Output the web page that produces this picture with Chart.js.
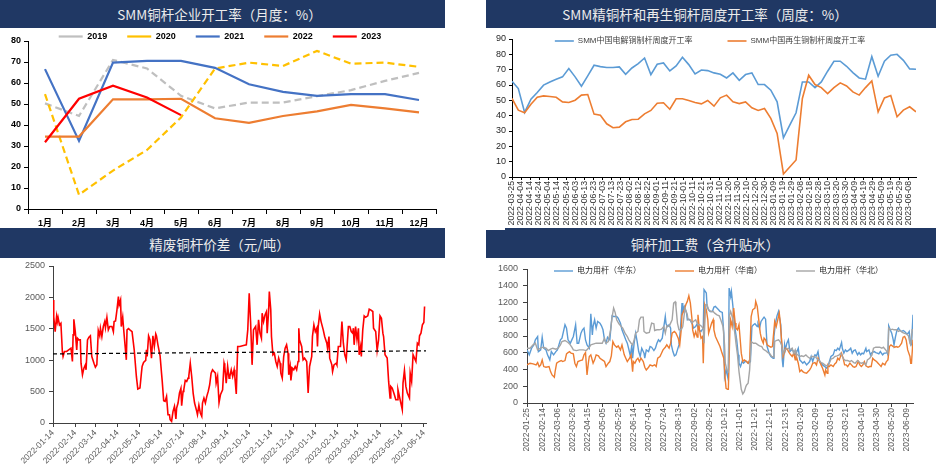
<!DOCTYPE html>
<html>
<head>
<meta charset="utf-8">
<script src="https://cdn.jsdelivr.net/npm/chart.js@4.4.0/dist/chart.umd.min.js"></script>
<style>
body { margin: 0; width: 936px; height: 471px; position: relative; background: #fff; overflow: hidden; font-family: 'Noto Sans CJK SC', sans-serif; }
.bar { position: absolute; height: 28px; background: #203864; color: #ececec; font-size: 13.5px; line-height: 28px; text-align: center; box-sizing: border-box; }
.rule { position: absolute; height: 2px; background: #203864; }
canvas { position: absolute; }
</style>
</head>
<body>
<div class="bar" style="left:0;top:0;width:445px;padding-right:6px">SMM铜杆企业开工率（月度：%）</div>
<div class="bar" style="left:486px;top:0;width:450px;padding-right:12px">SMM精铜杆和再生铜杆周度开工率（周度：%）</div>
<div class="bar" style="left:0;top:230px;width:445px;padding-right:6px">精废铜杆价差（元/吨）</div>
<div class="bar" style="left:486px;top:230px;width:450px;padding-right:12px">铜杆加工费（含升贴水）</div>
<div class="rule" style="left:0;top:228px;width:445px"></div>
<div class="rule" style="left:505px;top:228px;width:431px"></div>

<canvas id="c1" width="446" height="216" style="left:0;top:12px"></canvas>
<canvas id="c2" width="466" height="226" style="left:470px;top:2px"></canvas>
<canvas id="c3" width="446" height="213" style="left:0;top:258px"></canvas>
<canvas id="c4" width="466" height="238" style="left:470px;top:233px"></canvas>

<script>
// ---- chart 1: monthly operating rate
const months = ['1月','2月','3月','4月','5月','6月','7月','8月','9月','10月','11月','12月']
const y2019 = [50.3, 44.3, 71, 66.9, 53.9, 47.9, 50.7, 50.7, 53.7, 56.6, 61, 64.8]
const y2020 = [54.7, 6.8, 18.3, 28.1, 43.6, 66.9, 69.7, 68.1, 75.3, 69.2, 69.7, 67.7]
const y2021 = [66.6, 32.4, 69.7, 70.5, 70.5, 67.2, 59.4, 55.8, 53.9, 54.7, 54.7, 51.9]
const y2022 = [34.5, 34.5, 52.2, 52.2, 52.5, 43.2, 41, 44.3, 46.5, 49.6, 47.9, 46]
const y2023 = [31.8, 52.5, 58.7, 53.1, 44.7]

// ---- chart 2: weekly operating rate, one value per week from 2022-03-25
const weekStart = '2022-03-25'
const weeklyRefined = [62.5, 57.7, 42.1, 50.7, 55.1, 59.9, 62, 63.8, 65.3, 70.7, 65.3, 59.2, 65.9, 72.9, 72, 71.4, 71.4, 71.8, 67, 71.1, 74, 77.6, 66.8, 73.5, 74.4, 69.2, 72.4, 78.1, 73.3, 67.2, 69.8, 69.4, 67.9, 67, 64.6, 67.9, 63.1, 66.8, 67.9, 60.3, 60.3, 56.6, 49, 25.6, 33.8, 41.9, 62, 62, 58.3, 62, 69, 75.5, 75.5, 72.2, 68.1, 64.6, 63.8, 78.5, 65.7, 75.5, 79.4, 80, 76.1, 70.5, 70.3]
const weeklyRecycled = [51.2, 43.6, 41.9, 47.5, 52, 52.9, 52.5, 52, 49, 48.6, 50.1, 53.4, 53.8, 41, 40.3, 34.7, 32.1, 32.5, 36, 37.5, 37.7, 41.2, 43.4, 48.1, 48.4, 44.2, 51, 51, 49.9, 48.6, 47.7, 49.9, 46.2, 51.6, 53.4, 49, 47.9, 49, 45.1, 43.4, 44.7, 38.2, 28.4, 2, 6.5, 11.1, 51.2, 66.4, 60.3, 58.3, 54.4, 58.3, 61.4, 59.4, 55.5, 53.4, 58.3, 62.7, 42.5, 51.6, 53.1, 39.3, 43.6, 45.8, 42.5]
const weekTicks = ['2022-03-25','2022-04-04','2022-04-14','2022-04-24','2022-05-04','2022-05-14','2022-05-24','2022-06-03','2022-06-13','2022-06-23','2022-07-03','2022-07-13','2022-07-23','2022-08-02','2022-08-12','2022-08-22','2022-09-01','2022-09-11','2022-09-21','2022-10-01','2022-10-11','2022-10-21','2022-10-31','2022-11-10','2022-11-20','2022-11-30','2022-12-10','2022-12-20','2022-12-30','2023-01-09','2023-01-19','2023-01-29','2023-02-08','2023-02-18','2023-02-28','2023-03-10','2023-03-20','2023-03-30','2023-04-09','2023-04-19','2023-04-29','2023-05-09','2023-05-19','2023-05-29','2023-06-08']

// ---- chart 3: refined vs scrap rod spread, days since 2022-01-14
const spreadStart = '2022-01-14'
const spreadDays = [0,1,3,5,6,7,9,11,13,14,16,19,25,27,28,29,31,33,34,36,38,39,41,43,45,46,48,50,52,54,57,59,61,63,65,66,68,70,72,73,75,77,79,82,84,85,87,89,91,92,94,95,97,98,102,103,105,107,110,113,116,118,121,123,124,126,129,130,131,133,135,137,139,141,143,144,146,149,151,152,154,156,158,160,162,163,165,167,169,171,172,174,176,178,179,181,182,184,186,188,189,191,193,195,197,200,201,203,205,207,208,210,212,214,216,218,220,222,224,226,227,229,231,233,236,238,239,241,243,245,246,248,250,252,253,255,257,260,265,269,271,273,275,277,279,282,284,286,288,290,291,293,295,297,298,300,301,303,304,306,308,310,312,314,316,317,319,321,323,325,327,328,330,331,333,335,337,339,341,342,343,346,348,350,353,355,357,360,361,363,365,367,368,369,371,373,376,378,381,382,384,385,388,389,391,394,395,397,400,402,404,406,408,411,413,415,417,418,419,421,423,425,426,428,429,431,433,435,438,440,442,445,446,449,451,453,455,457,459,460,462,465,467,469,470,472,475,477,479,480,482,484,486,487,489,491,493,496,497,499,501,503,505,507,509,510,512,514,516,517]
const spreadVals = [1960,1695,1456,1695,1615,1684,1562,1589,1139,1059,1139,1139,1192,980,1404,1652,1456,1165,1350,1324,1324,953,768,873,926,847,1324,1366,1388,1059,953,890,926,1472,1388,1509,1377,1536,1615,1520,1679,1483,1536,1536,1456,1615,1626,1801,2013,1880,1960,1536,1684,1536,1006,1483,1504,1483,1456,1165,741,540,556,794,900,964,996,1165,1059,1388,1324,1033,1388,1218,1419,1388,1245,1070,794,662,355,344,424,132,132,53,26,185,265,64,238,318,477,551,275,503,530,678,662,715,752,953,741,477,318,185,132,281,159,106,318,397,318,424,503,609,794,847,821,794,635,741,323,450,530,953,900,635,900,715,741,847,741,847,741,461,1218,1218,1234,1245,1483,2066,1589,926,1483,1536,1245,1642,1430,1350,1748,1615,1721,1775,1430,1775,2092,1801,1377,1086,1112,980,900,1033,953,794,715,1059,1192,1245,1112,768,900,678,873,847,900,847,980,1509,1324,1218,1006,1033,980,477,900,1059,1377,1562,1456,1509,1218,1536,1737,1615,1483,1377,1271,1192,1377,1033,926,821,926,953,926,1218,1218,1615,1271,1086,1006,1536,1536,1456,1430,1509,1245,1536,1324,1509,1086,1218,1059,1483,1706,1684,1706,1812,1801,1775,1509,1456,1155,1324,1706,1668,1430,1377,1086,1033,662,397,583,556,450,371,371,530,424,318,212,635,837,583,477,397,794,662,1086,1033,980,1271,1245,1388,1430,1562,1600,1854]
const trendDays = [0, 519]
const trendVals = [1100, 1150]
const spreadTicks = ['2022-01-14','2022-02-14','2022-03-14','2022-04-14','2022-05-14','2022-06-14','2022-07-14','2022-08-14','2022-09-14','2022-10-14','2022-11-14','2022-12-14','2023-01-14','2023-02-14','2023-03-14','2023-04-14','2023-05-14','2023-06-14']

// ---- chart 4: processing fees, days since 2022-01-25
const feeStart = '2022-01-25'
const eastDays = [0,3,6,9,11,14,15,18,20,22,25,27,30,32,35,38,40,42,44,46,50,52,54,57,59,61,64,66,68,71,73,75,77,79,82,84,86,87,89,91,93,96,98,100,102,104,106,109,111,112,114,118,120,123,125,128,130,132,134,136,138,139,141,143,145,147,149,151,154,155,157,160,162,164,167,169,171,173,175,178,180,182,183,185,187,189,190,192,194,196,198,200,202,204,205,207,210,211,213,215,218,219,222,224,226,229,232,233,236,237,239,241,244,246,248,250,253,254,257,259,260,262,263,265,266,268,269,271,272,274,276,278,279,281,283,285,287,289,291,294,296,298,300,303,304,306,308,311,312,314,316,318,319,321,324,325,327,329,331,332,334,336,337,339,340,342,344,346,348,350,352,354,357,359,361,363,365,368,370,372,374,376,379,381,383,385,387,389,392,394,396,398,400,403,405,407,409,411,414,415,417,419,421,424,426,428,430,432,435,437,439,441,443,446,447,450,452,454,457,459,461,463,465,468,470,472,474,475,476,478,480,482,483,485,487,489,490,493,495,497,499,501,503,505,506,508]
const eastVals = [634,575,654,694,754,794,614,634,786,654,634,575,515,614,575,614,634,694,754,774,934,894,754,714,754,794,934,714,714,834,874,894,754,694,654,1065,814,914,993,894,974,954,922,874,754,714,786,754,954,1041,1033,1033,1013,954,874,802,754,714,642,563,694,535,714,834,734,614,555,654,595,535,634,614,674,666,626,654,714,754,734,774,906,1033,946,914,934,894,694,614,563,575,634,694,894,1193,1093,1153,1073,993,1001,986,934,894,914,946,874,854,894,1353,1313,1153,1113,1093,1093,1145,1153,1133,1105,1093,1081,834,315,395,355,275,1373,1273,1333,1153,1053,874,754,575,475,435,495,475,495,495,475,495,914,934,946,914,946,894,974,1013,1025,1001,674,614,587,555,535,794,954,1041,1093,1033,934,515,427,694,634,714,754,614,634,626,575,587,654,515,495,475,495,455,475,495,555,495,575,563,614,495,475,455,435,415,435,495,555,575,634,626,654,634,722,654,595,634,614,634,654,595,626,634,575,602,575,595,587,654,614,634,575,602,614,602,595,587,614,575,595,595,602,575,922,874,834,754,694,794,874,894,874,854,866,854,834,826,854,694,694,1053]
const southDays = [0,4,8,12,14,16,18,20,22,25,29,31,33,36,37,39,42,45,47,50,52,54,56,58,61,63,65,67,70,73,75,77,79,81,82,84,87,89,91,94,96,99,102,104,107,109,111,113,115,118,120,123,125,128,130,132,135,137,139,140,142,144,146,148,150,153,155,157,160,162,165,168,170,172,175,177,179,182,184,187,189,191,194,196,199,201,203,204,207,209,211,213,215,217,218,220,222,224,225,227,229,231,232,234,236,238,239,241,243,245,246,248,251,254,256,259,261,262,264,265,267,268,270,272,274,275,277,279,281,282,284,286,289,291,293,295,297,300,301,303,305,307,309,311,312,314,316,318,321,323,325,326,328,330,332,333,335,337,339,340,343,345,347,349,351,353,354,357,359,361,363,365,368,370,372,374,376,379,381,383,385,387,389,392,393,395,396,398,400,403,405,407,409,411,414,416,418,420,422,425,427,429,431,433,436,438,440,442,444,446,449,451,453,455,457,460,462,464,466,468,471,473,475,477,479,482,484,486,488,490,493,495,497,499,501,504,505,506,508]
const southVals = [455,475,467,455,483,435,455,515,435,427,435,375,335,307,375,475,495,507,495,507,587,602,614,595,587,475,435,495,507,515,575,602,335,495,555,575,475,515,575,563,535,515,495,435,475,495,563,734,694,666,682,634,694,575,535,495,535,575,375,495,475,515,535,495,535,495,427,395,427,455,443,455,435,535,555,595,634,666,694,654,714,834,854,834,774,694,874,1053,1113,1173,1213,1281,1193,1013,874,794,854,786,1053,874,774,794,475,1173,1113,993,834,894,954,993,874,794,734,674,614,535,275,176,164,164,874,993,914,1133,954,894,874,934,714,595,495,515,495,475,515,1033,1113,1133,1213,1153,993,834,754,714,774,754,694,682,666,674,874,974,914,993,1073,993,754,555,614,654,634,602,575,555,595,515,575,475,375,395,375,363,355,375,395,427,475,483,455,535,495,455,415,335,395,355,455,435,455,435,467,483,535,515,595,535,455,455,435,475,455,435,427,435,495,455,435,455,495,443,427,435,435,535,515,495,475,455,435,475,455,495,515,674,694,674,666,674,666,674,714,786,794,754,634,555,475,475,754]
const northDays = [0,4,8,11,14,18,21,25,28,31,34,38,41,44,46,50,54,56,59,61,65,69,74,78,82,84,88,91,96,99,102,104,107,110,112,114,116,118,121,124,126,129,132,134,137,139,141,143,146,148,150,153,154,157,161,164,167,168,171,174,177,180,182,184,187,189,191,193,195,196,198,200,203,205,208,211,212,215,217,219,222,225,227,230,232,233,235,237,239,242,245,247,250,253,255,258,260,261,263,265,266,268,270,272,274,275,277,279,281,282,284,286,288,289,291,293,295,296,298,301,304,306,309,311,314,317,319,322,325,326,328,331,333,335,337,339,341,344,346,349,351,353,354,356,359,361,364,367,369,372,375,377,380,382,385,387,389,392,395,397,400,403,405,408,411,413,415,417,419,422,425,427,430,432,435,438,440,443,446,448,451,454,456,459,461,464,467,469,472,475,476,478,481,483,486,489,491,494,496,499,502,504,505,507,508]
const northVals = [654,654,694,714,634,654,666,654,626,642,654,642,654,694,734,746,722,706,666,634,626,634,634,626,666,694,706,714,714,714,774,714,734,874,1025,1133,1081,993,946,914,894,834,794,754,714,694,754,834,854,993,1025,1025,854,834,842,954,946,866,874,874,882,914,834,922,914,954,993,1193,1209,1153,954,874,874,914,1133,1053,993,993,954,974,993,934,934,914,882,714,1173,1173,1113,1093,1093,1073,1053,1041,993,914,694,475,395,375,1033,1093,1033,934,794,714,575,375,235,164,108,136,196,215,235,395,734,734,714,714,694,682,674,642,626,602,595,555,547,734,746,754,734,694,587,634,642,654,634,654,595,634,595,575,555,563,555,575,555,535,555,555,547,523,507,483,475,455,443,455,523,535,555,563,575,595,555,523,507,507,495,507,483,475,507,483,475,483,455,515,535,575,654,666,666,666,654,666,634,595,894,874,882,874,874,854,866,842,834,826,802,714,694,874,874]
const feeTicks = ['2022-01-25','2022-02-14','2022-03-06','2022-03-26','2022-04-15','2022-05-05','2022-05-25','2022-06-14','2022-07-04','2022-07-24','2022-08-13','2022-09-02','2022-09-22','2022-10-12','2022-11-01','2022-11-21','2022-12-11','2022-12-31','2023-01-20','2023-02-09','2023-03-01','2023-03-21','2023-04-10','2023-04-30','2023-05-20','2023-06-09']

Chart.defaults.font.family = "'Liberation Sans', 'Noto Sans CJK SC', sans-serif"
Chart.defaults.animation = false

// moves the legend box sideways and lets it draw past its own height
const legendPlace = {
    id: 'legendPlace',
    afterLayout(chart, args, opts) {
        const lg = chart.legend
        if (!lg || !opts.dx && !opts.grow) return
        lg.left += opts.dx || 0
        lg.right += opts.dx || 0
        lg.bottom += opts.grow || 0
    }
}
Chart.register(legendPlace)

function dayOf(label, start) {
    return (Date.parse(label) - Date.parse(start)) / 86400000
}
function pts(days, vals) {
    return days.map((d, i) => ({x: d, y: vals[i]}))
}
function fixY(w) {
    return s => { s.width = w; s.paddingTop = 0; s.paddingBottom = 0 }
}
function fixX(h) {
    return s => { s.height = h; s.paddingLeft = 0; s.paddingRight = 0 }
}
function axisLook(color, tickLen) {
    return {
        border: {display: true, color: color, width: 1},
        grid: {display: true, drawOnChartArea: false, drawTicks: true, color: color, tickLength: tickLen}
    }
}
// linear day axis with ticks placed on the given dates
function dateAxis(labels, start, max, height, rot, tickColor, font) {
    const vals = labels.map(l => dayOf(l, start))
    return Object.assign(axisLook('#404040', 4), {
        type: 'linear', min: 0, max: max,
        afterFit: fixX(height),
        afterBuildTicks: s => { s.ticks = vals.map(v => ({value: v})) },
        ticks: {callback: (v, i) => labels[i], color: tickColor, font: {size: font}, padding: 1,
            minRotation: rot, maxRotation: rot, autoSkip: false}
    })
}
const plain = v => String(v)
const bySet = (a, b) => a.datasetIndex - b.datasetIndex

// chart 1
new Chart(document.getElementById('c1'), {
    type: 'line',
    data: {
        labels: months,
        datasets: [
            {label: '2019', data: y2019, borderColor: '#bfbfbf', borderDash: [7, 4], borderWidth: 2.2, order: 5},
            {label: '2020', data: y2020, borderColor: '#ffc000', borderDash: [7, 4], borderWidth: 2.2, order: 4},
            {label: '2021', data: y2021, borderColor: '#4472c4', borderWidth: 2.2, order: 3},
            {label: '2022', data: y2022, borderColor: '#ed7d31', borderWidth: 2.2, order: 2},
            {label: '2023', data: y2023, borderColor: '#ff0000', borderWidth: 2.2, order: 1}
        ]
    },
    options: {
        responsive: false,
        elements: {point: {radius: 0}, line: {tension: 0}},
        layout: {padding: {left: 4, right: 10, top: 0, bottom: 0}},
        plugins: {
            tooltip: {enabled: false},
            legend: {
                maxHeight: 29,
                labels: {usePointStyle: true, pointStyle: 'line', pointStyleWidth: 24, padding: 20, color: '#000',
                    font: {size: 9, weight: 'bold'}, sort: bySet}
            }
        },
        scales: {
            x: Object.assign(axisLook('#000', 5), {
                offset: true,
                afterFit: fixX(19),
                ticks: {color: '#000', font: {size: 9, weight: 'bold'}, padding: 4, maxRotation: 0, autoSkip: false}
            }),
            y: Object.assign(axisLook('#000', 4), {
                min: 0, max: 80,
                afterFit: fixY(24),
                ticks: {stepSize: 10, color: '#000', font: {size: 9, weight: 'bold'}, padding: 3}
            })
        }
    }
})
// grid ticks between categories
Chart.getChart('c1').options.scales.x.grid.offset = true
Chart.getChart('c1').update()

// chart 2
const weekX = weeklyRefined.map((_, i) => i * 7)
const x2 = dateAxis(weekTicks, weekStart, 448, 51, 90, '#333', 8.7)
x2.border.color = '#000'
x2.grid.color = '#000'
x2.grid.tickLength = 3
new Chart(document.getElementById('c2'), {
    type: 'line',
    data: {
        datasets: [
            {label: 'SMM中国电解铜制杆周度开工率', data: pts(weekX, weeklyRefined), borderColor: '#5b9bd5', borderWidth: 1.6, order: 2},
            {label: 'SMM中国再生铜制杆周度开工率', data: pts(weekX, weeklyRecycled), borderColor: '#ed7d31', borderWidth: 1.6, order: 1}
        ]
    },
    options: {
        responsive: false,
        elements: {point: {radius: 0}, line: {tension: 0}},
        layout: {padding: {left: 0, right: 20, top: 0, bottom: 0}},
        plugins: {
            tooltip: {enabled: false},
            legendPlace: {dx: 17, grow: 12},
            legend: {
                maxHeight: 37,
                labels: {usePointStyle: true, pointStyle: 'line', pointStyleWidth: 19, padding: 35, color: '#404040',
                    font: {size: 8}, sort: bySet}
            }
        },
        scales: {
            x: x2,
            y: Object.assign(axisLook('#000', 3), {
                min: 0, max: 90,
                afterFit: fixY(42),
                ticks: {stepSize: 10, color: '#262626', font: {size: 9}, padding: 3}
            })
        }
    }
})

// chart 3
new Chart(document.getElementById('c3'), {
    type: 'line',
    data: {
        datasets: [
            {label: 'trend', data: pts(trendDays, trendVals), borderColor: '#000', borderDash: [4, 3], borderWidth: 1.2},
            {label: '价差', data: pts(spreadDays, spreadVals), borderColor: '#ff0000', borderWidth: 1.6}
        ]
    },
    options: {
        responsive: false,
        elements: {point: {radius: 0}, line: {tension: 0}},
        layout: {padding: {left: 0, right: 20, top: 8, bottom: 0}},
        plugins: {tooltip: {enabled: false}, legend: {display: false}},
        scales: {
            x: dateAxis(spreadTicks, spreadStart, 519, 48, 45, '#595959', 8.5),
            y: Object.assign(axisLook('#404040', 4), {
                min: 0, max: 2500,
                afterFit: fixY(53),
                ticks: {stepSize: 500, color: '#595959', font: {size: 9}, padding: 4, callback: plain}
            })
        }
    }
})

// chart 4
new Chart(document.getElementById('c4'), {
    type: 'line',
    data: {
        datasets: [
            {label: '电力用杆（华东）', data: pts(eastDays, eastVals), borderColor: '#5b9bd5', borderWidth: 1.4, order: 3},
            {label: '电力用杆（华南）', data: pts(southDays, southVals), borderColor: '#ed7d31', borderWidth: 1.4, order: 2},
            {label: '电力用杆（华北）', data: pts(northDays, northVals), borderColor: '#a5a5a5', borderWidth: 1.4, order: 1}
        ]
    },
    options: {
        responsive: false,
        elements: {point: {radius: 0}, line: {tension: 0}},
        layout: {padding: {left: 0, right: 23, top: 0, bottom: 0}},
        plugins: {
            tooltip: {enabled: false},
            legendPlace: {dx: 27, grow: 12},
            legend: {
                maxHeight: 36,
                labels: {usePointStyle: true, pointStyle: 'line', pointStyleWidth: 19, padding: 34, color: '#262626',
                    font: {size: 8}, sort: bySet}
            }
        },
        scales: {
            x: dateAxis(feeTicks, feeStart, 508, 68, 90, '#595959', 8.5),
            y: Object.assign(axisLook('#404040', 4), {
                min: 0, max: 1600,
                afterFit: fixY(57),
                ticks: {stepSize: 200, color: '#595959', font: {size: 9}, padding: 5, callback: plain}
            })
        }
    }
})
</script>
</body>
</html>
